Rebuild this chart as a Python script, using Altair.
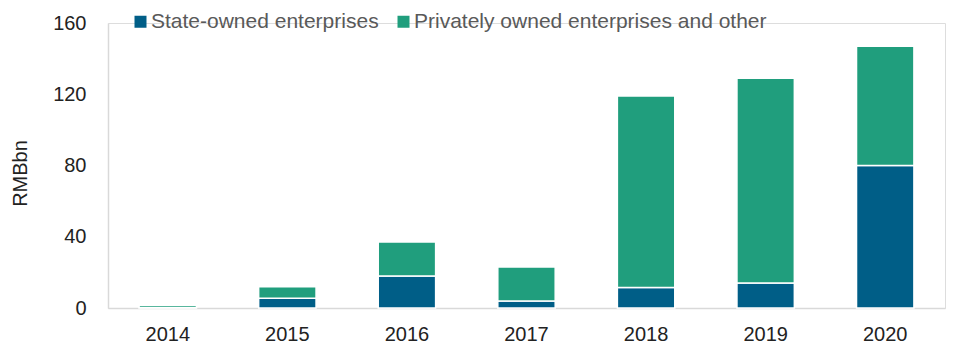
import altair as alt
import pandas as pd

years = ["2014", "2015", "2016", "2017", "2018", "2019", "2020"]
soe = [0.3, 5.5, 18, 4, 11.5, 14, 80]
private = [1.2, 6.5, 19, 19, 107.5, 115, 67]
series = ["State-owned enterprises", "Privately owned enterprises and other"]
colors = ["#005e87", "#209e7d"]
y_ticks = [0, 40, 80, 120, 160]

rows = []
for i, y in enumerate(years):
    rows.append({"year": y, "series": series[0], "value": soe[i], "ord": 0})
    rows.append({"year": y, "series": series[1], "value": private[i], "ord": 1})
df = pd.DataFrame(rows)

FONT = "Liberation Sans"

chart = alt.Chart(df).mark_bar(stroke="white", strokeWidth=1.5).encode(
    x=alt.X("year:N", sort=years, title=None,
            scale=alt.Scale(paddingInner=0.52, paddingOuter=0.26),
            axis=alt.Axis(labelAngle=0, labelFontSize=20, labelColor="#222222",
                          labelFont=FONT, ticks=False, domainColor="#d9d9d9",
                          domainWidth=1.5, labelPadding=16)),
    y=alt.Y("value:Q", stack="zero", title="RMBbn",
            scale=alt.Scale(domain=[0, 160], nice=False),
            axis=alt.Axis(values=y_ticks, grid=False, ticks=False, labelFontSize=20,
                          labelColor="#222222", labelFont=FONT, labelPadding=22,
                          domainColor="#d9d9d9", domainWidth=1.5,
                          titleFont=FONT, titleFontSize=20, titleFontWeight="normal",
                          titleColor="#222222", titleX=-88, titleY=150,
                          titleAngle=-90, titleBaseline="middle", titleAlign="center")),
    color=alt.Color("series:N", sort=series,
                    scale=alt.Scale(domain=series, range=colors),
                    legend=alt.Legend(title=None, orient="none", direction="horizontal",
                                      legendX=22, legendY=-12, symbolType="square",
                                      symbolSize=144, symbolStrokeWidth=0,
                                      labelFontSize=21, labelColor="#595959",
                                      labelFont=FONT, columnPadding=14,
                                      labelOffset=0, labelLimit=500)),
    order=alt.Order("ord:Q", sort="ascending"),
).properties(
    width=837, height=285,
    autosize=alt.AutoSizeParams(type="none"),
    padding={"left": 108, "top": 23, "right": 15, "bottom": 42},
).configure_view(stroke=None).configure(font=FONT)

chart.save("out.html", embed_options={"renderer": "svg", "actions": False})
